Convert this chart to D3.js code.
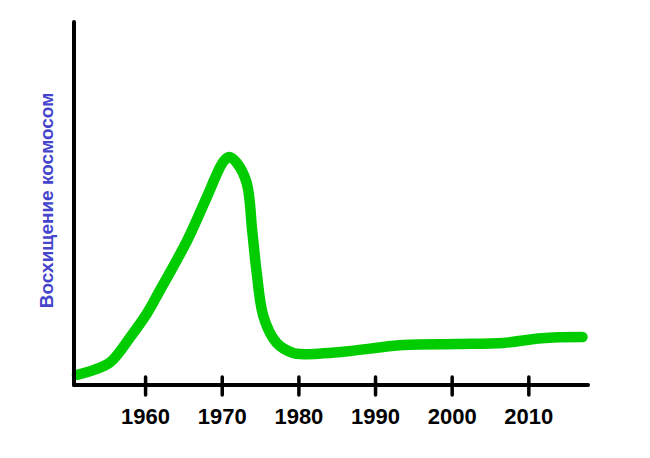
<!DOCTYPE html>
<html lang="ru">
<head>
    <meta charset="UTF-8" />
    <title>Восхищение космосом</title>
    <script src="https://d3js.org/d3.v7.min.js"></script>
    <style>
        body { margin: 0; background: #fff; }
        text { font-family: "Liberation Sans", Arial, Helvetica, sans-serif; font-weight: bold; }
    </style>
</head>
<body>
    <script>
        var w = 650;
        var h = 458;

        // Data
        var years = [1951.05, 1953.2, 1955.4, 1958.0, 1960.2, 1961.9, 1965.45, 1968.0, 1970.1, 1970.9, 1971.9, 1973.2,
                     1973.9, 1974.5, 1975.4, 1977.1, 1979.25, 1980.5, 1985.5, 1993.6, 2000.6, 2006.65, 2011.7, 2017.0];
        var awe = [2.8, 4.1, 6.3, 13.2, 19.8, 26.2, 39.9, 51.8, 61.4, 62.8, 61.2, 55.6,
                   42.7, 30.9, 18.7, 11.6, 8.8, 8.5, 9.1, 11.0, 11.3, 11.6, 12.9, 13.2];
        var tickYears = [1960, 1970, 1980, 1990, 2000, 2010];
        var yLabel = "Восхищение космосом";

        var svg = d3.select("body")
            .append("svg")
            .attr("width", w)
            .attr("height", h);

        // Scales
        var xScale = d3.scaleLinear()
            .domain([1950.66, 2017.72])
            .range([74, 588]);

        var yScale = d3.scaleLinear()
            .domain([0, 100])
            .range([385, 22]);

        // Line
        var line = d3.line()
            .x(function(d, i) { return xScale(years[i]); })
            .y(function(d) { return yScale(d); })
            .curve(d3.curveCatmullRom.alpha(0.5));

        svg.append("path")
            .datum(awe)
            .attr("d", line)
            .attr("fill", "none")
            .attr("stroke", "#00cc00")
            .attr("stroke-width", 10.5)
            .attr("stroke-linecap", "round")
            .attr("stroke-linejoin", "round");

        // Axes
        svg.append("line")
            .attr("x1", xScale.range()[0]).attr("x2", xScale.range()[0])
            .attr("y1", yScale.range()[1]).attr("y2", yScale.range()[0])
            .attr("stroke", "#000").attr("stroke-width", 4)
            .attr("stroke-linecap", "round");

        svg.append("line")
            .attr("x1", xScale.range()[0]).attr("x2", xScale.range()[1])
            .attr("y1", yScale.range()[0]).attr("y2", yScale.range()[0])
            .attr("stroke", "#000").attr("stroke-width", 4)
            .attr("stroke-linecap", "round");

        // Ticks and labels
        svg.selectAll(".tick")
            .data(tickYears)
            .enter()
            .append("line")
            .attr("class", "tick")
            .attr("x1", function(d) { return xScale(d); })
            .attr("x2", function(d) { return xScale(d); })
            .attr("y1", 377)
            .attr("y2", 395)
            .attr("stroke", "#000")
            .attr("stroke-width", 3.5)
            .attr("stroke-linecap", "round");

        svg.selectAll(".tlabel")
            .data(tickYears)
            .enter()
            .append("text")
            .attr("class", "tlabel")
            .attr("x", function(d) { return xScale(d); })
            .attr("y", 424)
            .attr("text-anchor", "middle")
            .attr("font-size", 22)
            .attr("fill", "#000")
            .text(function(d) { return d; });

        // Y label
        svg.append("text")
            .attr("transform", "translate(53,200.5) rotate(-90)")
            .attr("text-anchor", "middle")
            .attr("font-size", 19)
            .attr("fill", "#4444cc")
            .text(yLabel);
    </script>
</body>
</html>
